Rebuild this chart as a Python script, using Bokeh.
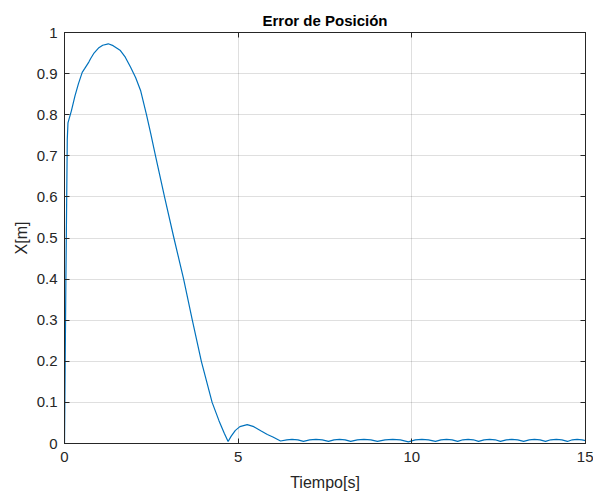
from bokeh.plotting import figure
from bokeh.models import LinearAxis, FixedTicker, Range1d, Title, CustomJSTickFormatter
from bokeh.embed import file_html
from bokeh.resources import INLINE

# Data
t_main = [0.0, 0.04, 0.08, 0.10, 0.20, 0.30, 0.40, 0.51, 0.58, 0.70, 0.75, 0.85, 0.99,
          1.10, 1.26, 1.40, 1.61, 1.75, 1.90, 2.05, 2.19, 2.36, 2.48, 2.62, 2.88, 3.15,
          3.43, 3.68, 3.94, 4.25, 4.45, 4.60, 4.71, 4.80, 4.92, 5.05, 5.26, 5.45, 5.65,
          5.84, 6.00, 6.22]
y_main = [0.0, 0.40, 0.74, 0.78, 0.81, 0.845, 0.875, 0.903, 0.912, 0.928, 0.936, 0.950, 0.963,
          0.969, 0.9725, 0.968, 0.956, 0.940, 0.916, 0.890, 0.859, 0.800, 0.755, 0.700, 0.600, 0.500,
          0.400, 0.300, 0.200, 0.100, 0.055, 0.025, 0.005, 0.018, 0.032, 0.041, 0.046, 0.041, 0.031,
          0.022, 0.016, 0.006]

t_ripple = [6.40, 6.55, 6.72, 6.88, 7.06, 7.24, 7.42, 7.60, 7.76, 7.92, 8.08, 8.24, 8.43, 8.62,
            8.82, 9.01, 9.23, 9.45, 9.67, 9.90, 10.10, 10.29, 10.48, 10.68, 10.84, 11.00, 11.16,
            11.32, 11.47, 11.62, 11.77, 11.92, 12.08, 12.24, 12.40, 12.55, 12.72, 12.88, 13.05,
            13.22, 13.38, 13.53, 13.69, 13.85, 14.00, 14.16, 14.32, 14.48, 14.62, 14.76, 14.90, 15.0]
y_ripple = [0.009, 0.010, 0.009, 0.005, 0.009, 0.010, 0.009, 0.005, 0.009, 0.010, 0.009, 0.005,
            0.009, 0.010, 0.009, 0.005, 0.009, 0.010, 0.009, 0.004, 0.009, 0.010, 0.009, 0.005,
            0.009, 0.010, 0.009, 0.005, 0.009, 0.010, 0.009, 0.005, 0.009, 0.010, 0.009, 0.005,
            0.009, 0.010, 0.009, 0.005, 0.009, 0.010, 0.009, 0.005, 0.009, 0.010, 0.009, 0.005,
            0.009, 0.010, 0.009, 0.007]

t = t_main + t_ripple
y = y_main + y_ripple

x_ticks = [0, 5, 10, 15]
y_ticks = [0, 0.1, 0.2, 0.3, 0.4, 0.5, 0.6, 0.7, 0.8, 0.9, 1.0]

FONT = "Liberation Sans"
AX = "#262626"

p = figure(width=593, height=496, output_backend="svg", toolbar_location=None,
           x_range=Range1d(0, 15), y_range=Range1d(0, 1),
           min_border_left=64, min_border_right=8, min_border_top=32, min_border_bottom=53)
p.background_fill_color = "white"
p.border_fill_color = "white"
p.outline_line_color = AX
p.outline_line_width = 1

p.title = Title(text="Error de Posición", align="center", text_font=FONT,
                text_font_size="15px", text_font_style="bold", text_color="black",
                offset=0, standoff=8)

p.line(t, y, line_color="#0072BD", line_width=1.2)

for ax in [p.xaxis[0], p.yaxis[0]]:
    ax.axis_line_color = AX
    ax.major_tick_line_color = AX
    ax.major_tick_in = 5
    ax.major_tick_out = 0
    ax.minor_tick_line_color = None
    ax.major_label_text_font = FONT
    ax.major_label_text_font_size = "15px"
    ax.major_label_text_color = AX
    ax.axis_label_text_font = FONT
    ax.axis_label_text_font_size = "16px"
    ax.axis_label_text_font_style = "normal"
    ax.axis_label_text_color = AX

p.xaxis[0].ticker = FixedTicker(ticks=x_ticks)
p.yaxis[0].ticker = FixedTicker(ticks=y_ticks)
p.yaxis[0].formatter = CustomJSTickFormatter(code="return (Math.round(tick*10)/10).toString();")
p.xaxis[0].axis_label = "Tiempo[s]"
p.yaxis[0].axis_label = "X[m]"
p.xaxis[0].major_label_standoff = 8
p.yaxis[0].major_label_standoff = 7
p.xaxis[0].axis_label_standoff = 9
p.yaxis[0].axis_label_standoff = 4

empty = CustomJSTickFormatter(code="return '';")
top = LinearAxis(ticker=FixedTicker(ticks=x_ticks), formatter=empty)
right = LinearAxis(ticker=FixedTicker(ticks=y_ticks), formatter=empty)
for ax in [top, right]:
    ax.axis_line_color = AX
    ax.major_tick_line_color = AX
    ax.major_tick_in = 5
    ax.major_tick_out = 0
    ax.minor_tick_line_color = None
    ax.major_label_text_font_size = "1px"
    ax.major_label_standoff = 0
p.add_layout(top, "above")
p.add_layout(right, "right")

p.xgrid.ticker = FixedTicker(ticks=x_ticks)
p.ygrid.ticker = FixedTicker(ticks=y_ticks)
p.grid.grid_line_color = "#262626"
p.grid.grid_line_alpha = 0.15

open("out.html", "w").write(file_html(p, INLINE))
